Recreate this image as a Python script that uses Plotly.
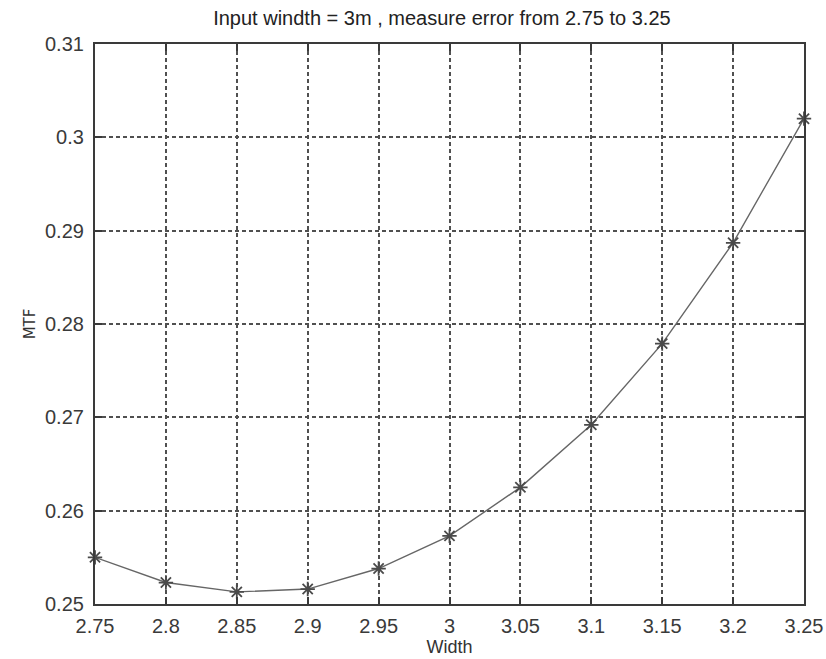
import plotly.graph_objects as go

widths = [2.75, 2.80, 2.85, 2.90, 2.95, 3.00, 3.05, 3.10, 3.15, 3.20, 3.25]
mtf = [0.2550, 0.2523, 0.2513, 0.2516, 0.2538, 0.2573, 0.2625, 0.2692, 0.2779, 0.2887, 0.3020]
x_ticks = [2.75, 2.8, 2.85, 2.9, 2.95, 3.0, 3.05, 3.1, 3.15, 3.2, 3.25]
x_tick_labels = ["2.75", "2.8", "2.85", "2.9", "2.95", "3", "3.05", "3.1", "3.15", "3.2", "3.25"]
y_ticks = [0.25, 0.26, 0.27, 0.28, 0.29, 0.30, 0.31]
y_tick_labels = ["0.25", "0.26", "0.27", "0.28", "0.29", "0.3", "0.31"]

FONT = "Liberation Sans, Arial, sans-serif"

fig = go.Figure()
fig.add_trace(go.Scatter(
    x=widths, y=mtf, mode="lines+markers",
    line=dict(color="#666666", width=1.4),
    marker=dict(symbol="asterisk-open", size=12, color="#4a4a4a",
                line=dict(color="#4a4a4a", width=1.8)),
    cliponaxis=False,
))

axis_common = dict(
    showline=True, linecolor="#3a3a3a", linewidth=2.2, mirror="ticks",
    ticks="inside", ticklen=7, tickcolor="#3a3a3a", tickwidth=1.6,
    showgrid=True, gridcolor="#505050", griddash="4px,3px", gridwidth=1.6,
    zeroline=False, automargin=False,
    tickfont=dict(family=FONT, size=20, color="#3a3a3a"),
)

fig.update_xaxes(range=[2.75, 3.25], tickvals=x_ticks, ticktext=x_tick_labels,
                 ticklabelstandoff=3,
                 title=dict(text="Width", font=dict(family=FONT, size=18, color="#333333"), standoff=3),
                 **axis_common)
fig.update_yaxes(range=[0.25, 0.31], tickvals=y_ticks, ticktext=y_tick_labels,
                 ticklabelstandoff=5,
                 title=dict(text="MTF", font=dict(family="DejaVu Sans, sans-serif", size=15, color="#333333"), standoff=6),
                 **axis_common)

fig.update_layout(
    width=826, height=659,
    margin=dict(l=95, r=22, t=44, b=55),
    paper_bgcolor="white", plot_bgcolor="white",
    showlegend=False,
    title=dict(text="Input windth = 3m , measure error from 2.75 to 3.25",
               font=dict(family=FONT, size=20, color="#222222"),
               x=0.535, xanchor="center", y=0.973, yanchor="middle"),
)

fig.write_html("out.html")
